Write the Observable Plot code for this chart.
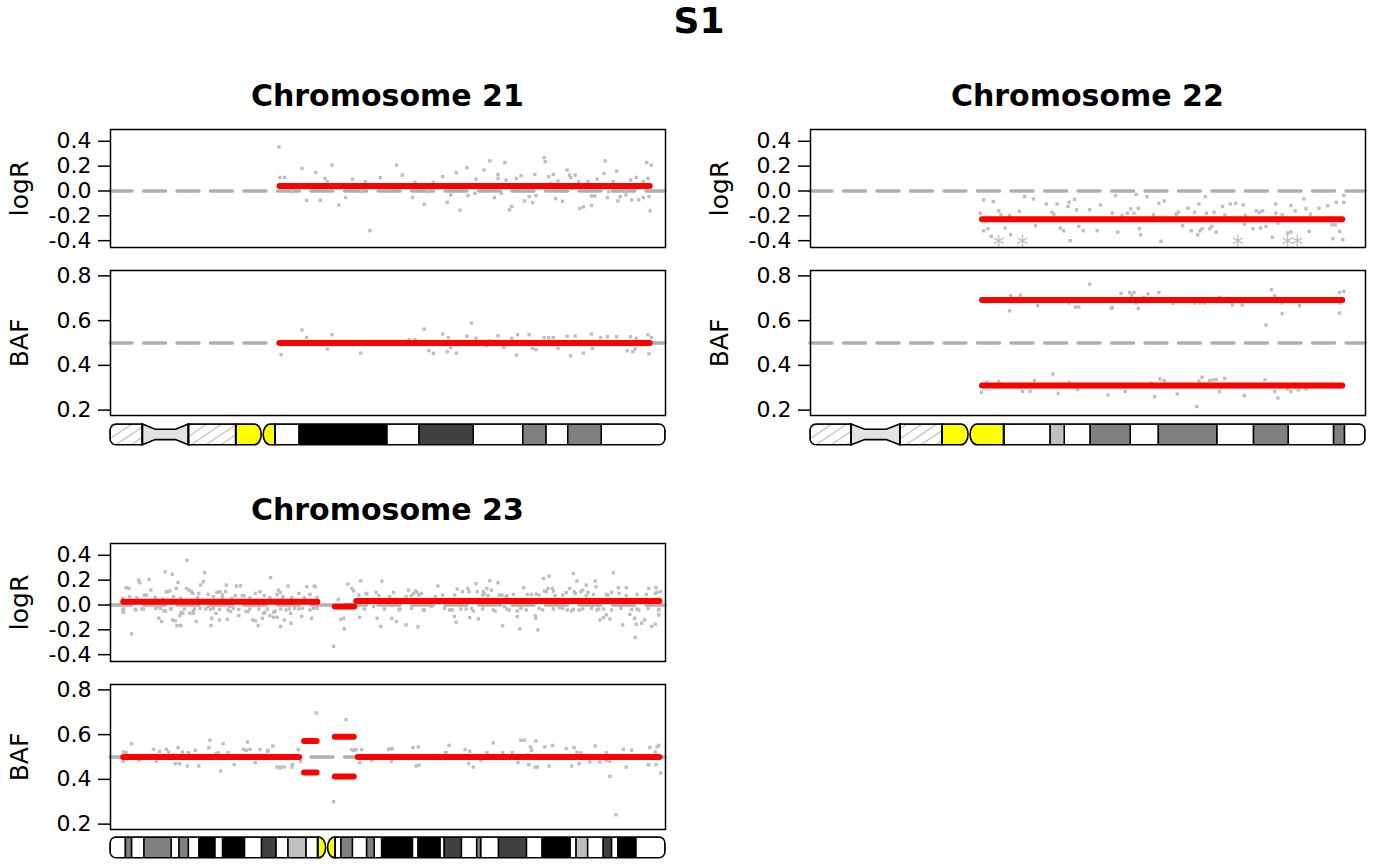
<!DOCTYPE html>
<html><head><meta charset="utf-8">
<script src="https://cdn.jsdelivr.net/npm/d3@7"></script>
<script src="https://cdn.jsdelivr.net/npm/@observablehq/plot@0.6"></script>
<style>
body{margin:0;background:#fff;font-family:"DejaVu Sans",sans-serif;}
#root{position:relative;width:1400px;height:866px;overflow:hidden;background:#fff;}
.title{position:absolute;font-weight:bold;text-align:center;white-space:nowrap;color:#000;}
</style></head><body><div id="root"></div>
<script>
// ---------------- data ----------------
const mainTitle = "S1";
const chrTitles = ["Chromosome 21", "Chromosome 22", "Chromosome 23"];
const chrLengths = [48.13, 51.3, 155.27]; // Mb
const logRTicks = [-0.4, -0.2, 0.0, 0.2, 0.4];
const bafTicks = [0.2, 0.4, 0.6, 0.8];
const logRDomain = [-0.455, 0.495];
const bafDomain = [0.176, 0.824];

// [start Mb, end Mb, stain]
const chr21Bands = [[0,2.8,"gvar"],[2.8,6.8,"stalk"],[6.8,10.9,"gvar"],[10.9,13.2,"acen"],[13.2,14.3,"acen"],[14.3,16.4,"gneg"],[16.4,24.0,"gpos100"],[24.0,26.8,"gneg"],[26.8,31.5,"gpos75"],[31.5,35.8,"gneg"],[35.8,37.8,"gpos50"],[37.8,39.7,"gneg"],[39.7,42.6,"gpos50"],[42.6,48.13,"gneg"]];
const chr22Bands = [[0,3.8,"gvar"],[3.8,8.3,"stalk"],[8.3,12.2,"gvar"],[12.2,14.7,"acen"],[14.7,17.9,"acen"],[17.9,22.2,"gneg"],[22.2,23.5,"gpos25"],[23.5,25.9,"gneg"],[25.9,29.6,"gpos50"],[29.6,32.2,"gneg"],[32.2,37.6,"gpos50"],[37.6,41.0,"gneg"],[41.0,44.2,"gpos50"],[44.2,48.4,"gneg"],[48.4,49.4,"gpos50"],[49.4,51.3,"gneg"]];
const chr23Bands = [[0,4.3,"gneg"],[4.3,6.0,"gpos50"],[6.0,9.5,"gneg"],[9.5,17.1,"gpos50"],[17.1,19.3,"gneg"],[19.3,21.9,"gpos50"],[21.9,24.9,"gneg"],[24.9,29.3,"gpos100"],[29.3,31.5,"gneg"],[31.5,37.6,"gpos100"],[37.6,42.4,"gneg"],[42.4,46.4,"gpos75"],[46.4,49.8,"gneg"],[49.8,54.8,"gpos25"],[54.8,58.1,"gneg"],[58.1,60.6,"acen"],[60.6,63.0,"acen"],[63.0,64.6,"gneg"],[64.6,67.8,"gpos50"],[67.8,71.8,"gneg"],[71.8,73.9,"gpos50"],[73.9,76.0,"gneg"],[76.0,84.6,"gpos100"],[84.6,86.2,"gneg"],[86.2,92.3,"gpos100"],[92.3,93.5,"gneg"],[93.5,98.3,"gpos75"],[98.3,102.6,"gneg"],[102.6,103.7,"gpos50"],[103.7,108.7,"gneg"],[108.7,116.5,"gpos75"],[116.5,120.9,"gneg"],[120.9,128.7,"gpos100"],[128.7,130.4,"gneg"],[130.4,133.6,"gpos25"],[133.6,138.0,"gneg"],[138.0,140.3,"gpos75"],[140.3,142.1,"gneg"],[142.1,147.1,"gpos100"],[147.1,155.27,"gneg"]];

// segments [start Mb, end Mb, value]
const chr21LogRSeg = [[14.7,46.8,0.04]];
const chr21BAFSeg = [[14.7,46.8,0.5]];
const chr22LogRSeg = [[15.9,49.2,-0.227]];
const chr22BAFSeg = [[15.9,49.2,0.692],[15.9,49.2,0.31]];
const chr23LogRSeg = [[3.7,58.0,0.027],[62.9,68.3,-0.013],[68.9,153.7,0.032]];
const chr23BAFSeg = [[3.7,52.9,0.5],[54.3,57.8,0.572],[54.3,57.8,0.431],[62.9,68.2,0.59],[62.9,68.2,0.413],[69.3,153.7,0.5]];

// points [pos Mb, value]
const chr21LogR = [[14.6,0.355],[14.7,0.109],[15.1,0.109],[16.6,0.181],[17.8,0.149],[19.2,0.208],[18.6,0.101],[18.8,0.075],[21.0,0.096],[22.1,0.075],[23.4,0.107],[24.8,0.208],[25.3,0.128],[26.4,0.069],[28.0,0.069],[28.8,0.115],[30.0,0.147],[30.9,0.187],[31.7,0.096],[32.4,0.168],[32.9,0.243],[33.6,0.133],[33.6,0.101],[34.2,0.229],[34.3,0.088],[35.2,0.101],[35.6,0.123],[36.8,0.133],[37.6,0.269],[37.7,0.235],[38.0,0.115],[38.4,0.133],[38.8,0.08],[39.6,0.168],[39.8,0.128],[40.3,0.128],[39.9,0.107],[40.6,0.075],[41.4,0.075],[42.2,0.096],[42.8,0.141],[42.9,0.243],[43.6,0.075],[43.9,0.16],[45.1,0.088],[45.6,0.109],[46.5,0.229],[46.9,0.208],[46.6,0.101],[46.2,0.075],
[15.7,-0.005],[17.0,-0.075],[18.2,-0.075],[19.8,-0.112],[20.4,-0.053],[21.8,-0.005],[22.5,-0.32],[26.2,-0.053],[27.2,-0.107],[27.6,-0.005],[29.2,-0.091],[29.5,-0.032],[30.3,-0.155],[31.0,-0.037],[31.6,-0.019],[33.3,-0.053],[33.9,-0.019],[34.6,-0.152],[34.8,-0.125],[35.9,-0.08],[36.3,-0.045],[36.6,-0.093],[36.9,-0.037],[38.6,-0.061],[39.2,-0.083],[40.7,-0.141],[41.0,-0.128],[41.7,-0.117],[41.7,-0.04],[42.0,-0.04],[43.1,-0.053],[43.2,-0.005],[44.0,-0.08],[44.2,-0.045],[44.7,-0.032],[44.6,-0.005],[45.2,-0.072],[45.8,-0.072],[46.2,-0.053],[46.7,-0.045],[46.8,-0.16],
[16.0,0.03],[20.0,0.05],[24.0,0.02],[27.0,0.04],[30.5,0.03],[33.0,0.05],[36.0,0.02],[38.2,0.06],[40.0,0.02],[41.5,0.05],[43.0,0.03],[44.5,0.04],[45.5,0.02],[46.0,0.05]];
const chr21BAF = [[14.8,0.448],[16.6,0.558],[17.0,0.525],[18.8,0.473],[19.2,0.537],[21.7,0.455],[25.9,0.515],[26.4,0.515],[27.2,0.562],[27.6,0.466],[28.0,0.454],[28.8,0.54],[29.3,0.524],[29.2,0.461],[29.5,0.48],[30.0,0.455],[30.9,0.53],[31.3,0.589],[31.7,0.521],[32.6,0.488],[32.9,0.51],[33.6,0.533],[34.1,0.48],[34.8,0.521],[35.2,0.446],[35.3,0.537],[36.3,0.537],[36.6,0.476],[36.9,0.47],[37.6,0.524],[38.0,0.524],[38.4,0.524],[38.8,0.476],[39.6,0.53],[39.9,0.443],[40.3,0.531],[41.0,0.455],[41.7,0.54],[41.8,0.476],[42.5,0.524],[43.1,0.528],[43.9,0.528],[44.8,0.466],[45.3,0.461],[45.5,0.473],[45.1,0.528],[45.6,0.521],[46.6,0.537],[46.9,0.525],[46.7,0.452]];
const chr22LogR = [[16.0,-0.072],[16.9,-0.085],[15.7,-0.179],[16.0,-0.32],[16.4,-0.304],[16.7,-0.365],[17.4,-0.16],[17.6,-0.192],[18.0,-0.299],[18.5,-0.352],[18.4,-0.197],[19.3,-0.165],[19.8,-0.045],[20.6,-0.064],[20.8,-0.28],[21.8,-0.104],[22.3,-0.171],[22.5,-0.187],[22.8,-0.104],[23.1,-0.299],[23.4,-0.32],[23.8,-0.125],[23.9,-0.091],[24.0,-0.4],[24.4,-0.067],[24.6,-0.152],[24.8,-0.285],[25.2,-0.32],[25.8,-0.152],[26.5,-0.32],[26.8,-0.112],[27.9,-0.179],[28.2,-0.037],[28.4,-0.331],[28.8,-0.197],[29.3,-0.179],[29.6,-0.144],[29.9,-0.179],[30.1,-0.027],[30.3,-0.139],[30.4,-0.304],[30.5,-0.352],[31.1,-0.045],[31.7,-0.192],[32.2,-0.099],[32.4,-0.405],[32.7,-0.08],[33.8,-0.187],[34.0,-0.171],[34.4,-0.28],[34.9,-0.139],[35.2,-0.32],[35.5,-0.171],[35.8,-0.352],[36.0,-0.32],[36.2,-0.304],[35.9,-0.104],[36.5,-0.045],[36.6,-0.179],[36.9,-0.304],[37.1,-0.285],[37.5,-0.331],[37.3,-0.171],[38.1,-0.125],[38.3,-0.192],[38.8,-0.104],[39.3,-0.099],[40.0,-0.112],[40.1,-0.267],[40.2,-0.197],[40.9,-0.304],[41.2,-0.16],[41.5,-0.171],[41.8,-0.16],[41.6,-0.299],[42.1,-0.285],[42.7,-0.373],[43.0,-0.104],[43.0,-0.179],[43.2,-0.259],[43.6,-0.192],[44.1,-0.339],[44.4,-0.331],[44.4,-0.117],[44.8,-0.16],[45.6,-0.064],[45.8,-0.144],[46.2,-0.187],[46.1,-0.325],[47.0,-0.139],[47.8,-0.12],[48.2,-0.272],[48.5,-0.272],[48.6,-0.091],[49.3,-0.091],[48.9,-0.325],[49.2,-0.392],[48.3,-0.384],[49.3,-0.037]];
const chr22LogROut = [[17.4,-0.4],[19.6,-0.4],[39.5,-0.4],[44.1,-0.4],[45.0,-0.4]];
const chr22BAF = [[16.2,0.686],[16.6,0.686],[18.5,0.711],[19.4,0.714],[18.4,0.644],[21.0,0.667],[23.9,0.679],[24.5,0.661],[24.8,0.661],[25.8,0.763],[27.9,0.659],[27.8,0.655],[28.7,0.722],[29.5,0.726],[29.9,0.726],[29.7,0.714],[30.1,0.679],[30.3,0.655],[30.8,0.704],[31.2,0.719],[32.2,0.726],[33.5,0.677],[35.5,0.679],[36.0,0.679],[36.4,0.679],[37.8,0.704],[39.0,0.67],[39.9,0.67],[42.6,0.738],[42.9,0.711],[42.1,0.58],[43.6,0.679],[43.6,0.632],[45.2,0.667],[48.9,0.726],[49.3,0.731],[48.9,0.679],[48.9,0.634],
[15.8,0.28],[16.3,0.324],[17.4,0.327],[19.6,0.284],[20.3,0.284],[20.7,0.332],[22.4,0.362],[22.9,0.275],[23.9,0.324],[24.7,0.292],[27.5,0.268],[29.1,0.284],[31.5,0.321],[31.8,0.26],[32.3,0.339],[32.7,0.332],[33.9,0.272],[35.7,0.216],[35.9,0.33],[36.2,0.347],[36.9,0.332],[37.2,0.335],[37.5,0.336],[37.8,0.283],[38.3,0.342],[40.1,0.265],[42.0,0.336],[42.9,0.283],[43.2,0.254],[44.1,0.295],[44.4,0.283],[44.8,0.317],[45.1,0.29],[45.8,0.295],[48.3,0.317]];
const chr23LogR = [[4.4,0.139],[5.1,0.133],[3.4,-0.04],[3.6,-0.059],[5.9,-0.232],[7.1,-0.04],[7.9,0.2],[8.2,0.179],[9.2,-0.032],[10.0,0.08],[10.8,0.205],[11.3,0.12],[13.0,-0.013],[13.5,-0.107],[14.3,-0.133],[15.3,0.267],[17.3,0.248],[15.6,0.107],[16.6,0.112],[15.4,-0.048],[17.0,-0.032],[18.1,-0.128],[18.6,-0.165],[19.6,-0.165],[18.4,0.133],[18.9,0.181],[19.8,-0.059],[20.7,-0.032],[21.4,0.36],[22.0,0.12],[22.7,0.107],[23.2,-0.048],[24.0,-0.133],[24.7,0.093],[25.2,0.16],[26.0,0.187],[26.3,0.261],[27.3,-0.013],[28.1,-0.165],[28.8,-0.027],[29.8,0.101],[30.5,-0.12],[31.3,0.08],[32.2,0.107],[32.4,0.16],[32.7,-0.115],[33.6,-0.053],[35.2,0.152],[36.4,0.155],[35.9,-0.085],[37.4,0.075],[37.9,-0.053],[39.0,-0.032],[40.5,-0.128],[41.3,-0.165],[41.8,0.107],[42.5,-0.107],[43.2,-0.059],[44.8,0.221],[45.6,-0.059],[46.1,-0.048],[46.6,-0.099],[47.0,0.12],[47.6,0.101],[47.6,-0.173],[48.6,-0.12],[48.3,0.067],[49.7,0.152],[50.4,-0.067],[50.5,-0.147],[53.5,-0.093],[54.9,0.147],[57.0,0.152],[57.3,0.147],[56.8,-0.027],
[62.4,-0.333],[63.7,0.045],[64.4,-0.115],[65.2,-0.107],[65.4,-0.192],[66.4,0.168],[67.5,0.133],[68.0,0.115],[69.7,-0.099],[70.0,0.195],[70.7,0.005],[71.7,0.088],[74.3,0.101],[74.6,-0.107],[75.6,-0.173],[75.9,0.192],[78.7,-0.107],[80.0,-0.133],[79.2,0.101],[81.0,-0.032],[82.7,-0.16],[83.4,0.12],[84.2,0.075],[84.8,0.093],[85.8,0.101],[87.0,0.093],[86.0,-0.176],[87.5,-0.04],[91.6,0.152],[94.9,-0.04],[96.2,-0.093],[96.7,-0.139],[97.0,0.128],[100.0,0.133],[100.3,0.107],[98.0,-0.032],[100.5,-0.101],[102.9,-0.112],[101.0,-0.027],[102.3,0.171],[104.3,0.107],[105.3,0.133],[106.1,0.195],[108.4,0.179],[104.6,0.088],[105.6,0.075],[107.6,-0.048],[109.7,-0.168],[109.5,0.08],[110.9,0.075],[110.9,-0.032],[113.8,-0.093],[114.5,-0.192],[113.8,-0.048],[115.6,0.139],[117.8,0.085],[119.1,0.088],[118.8,-0.085],[119.0,-0.107],[119.6,-0.2],[121.1,0.213],[122.7,0.232],[121.4,0.112],[122.4,0.133],[123.6,0.133],[123.9,0.112],[125.5,-0.021],[127.8,-0.04],[129.0,-0.048],[128.5,0.133],[127.5,0.099],[129.5,0.253],[130.5,0.192],[129.7,0.107],[131.6,0.107],[132.1,0.12],[133.1,0.16],[133.6,0.101],[135.6,0.192],[135.8,0.147],[136.6,-0.032],[136.9,-0.12],[137.9,-0.101],[138.7,-0.08],[139.7,-0.112],[138.7,0.085],[140.7,0.259],[140.2,0.101],[142.1,0.139],[144.3,0.139],[143.3,-0.16],[145.3,-0.075],[146.6,-0.107],[146.8,-0.261],[147.1,-0.155],[148.6,-0.147],[149.4,-0.12],[147.3,-0.032],[150.6,0.133],[152.6,0.139],[152.4,-0.155],[151.4,-0.173],[152.9,0.101],[153.4,-0.08],[153.4,-0.035],
[3.7,-0.032],[6.9,-0.035],[8.8,-0.032],[12.7,-0.027],[14.0,-0.027],[14.9,-0.048],[16.8,-0.032],[17.4,-0.12],[19.4,-0.085],[20.2,-0.067],[22.2,-0.067],[23.2,-0.067],[23.5,-0.032],[25.0,-0.027],[26.6,-0.032],[28.0,-0.035],[28.3,-0.107],[29.5,-0.067],[30.5,-0.035],[32.9,-0.04],[33.4,-0.013],[34.4,-0.027],[35.9,-0.035],[38.5,-0.053],[39.8,-0.12],[41.5,-0.032],[42.8,-0.067],[43.9,-0.032],[44.6,-0.085],[45.6,-0.099],[47.6,-0.032],[49.1,-0.04],[50.0,-0.032],[51.5,-0.027],[52.7,-0.032],[53.7,-0.027],[55.8,-0.04],[56.3,-0.107],[57.8,-0.027],
[3.4,0.053],[5.4,0.067],[7.4,0.059],[9.5,0.08],[12.5,0.061],[14.6,0.048],[15.9,0.107],[17.6,0.067],[19.6,0.053],[21.2,0.133],[23.0,0.093],[24.4,0.059],[27.3,0.085],[28.8,0.067],[30.6,0.107],[31.3,0.059],[33.9,0.053],[34.9,0.075],[36.9,0.075],[39.0,0.059],[40.5,0.093],[43.0,0.075],[44.6,0.059],[46.6,0.085],[48.1,0.053],[50.7,0.059],[52.7,0.093],[54.2,0.059],[55.8,0.085],[57.8,0.061],
[69.5,0.08],[71.5,0.093],[75.1,0.075],[78.1,0.067],[82.7,0.067],[85.3,0.112],[86.3,0.08],[90.9,0.067],[92.9,0.08],[96.3,0.08],[98.5,0.107],[102.6,0.107],[104.1,0.08],[106.6,0.12],[108.7,0.08],[110.7,0.067],[112.7,0.085],[116.6,0.085],[119.9,0.08],[121.9,0.107],[124.4,0.075],[126.5,0.08],[130.0,0.093],[133.1,0.075],[135.1,0.085],[139.2,0.08],[142.3,0.093],[144.3,0.075],[147.3,0.085],[149.9,0.085],[152.4,0.093],[153.9,0.107],
[71.0,-0.032],[73.6,-0.013],[76.6,-0.032],[80.7,-0.04],[84.2,-0.027],[87.8,-0.04],[89.8,-0.013],[93.4,-0.027],[95.6,-0.04],[99.5,-0.032],[101.5,-0.048],[104.1,-0.032],[107.1,-0.04],[110.2,-0.013],[111.5,-0.04],[114.8,-0.027],[116.3,-0.04],[119.9,-0.027],[120.9,-0.04],[123.9,-0.032],[126.5,-0.027],[129.5,-0.035],[131.1,-0.04],[132.1,-0.032],[134.6,-0.027],[136.1,-0.04],[138.0,-0.032],[140.2,-0.04],[142.8,-0.027],[145.8,-0.035],[147.8,-0.04],[150.4,-0.027],[153.4,-0.04]];
const chr23BAF = [[3.6,0.522],[4.4,0.519],[3.6,0.481],[5.9,0.56],[8.2,0.49],[12.0,0.534],[13.7,0.525],[12.8,0.481],[16.3,0.522],[17.6,0.51],[18.1,0.47],[19.3,0.47],[18.9,0.542],[20.1,0.522],[21.9,0.519],[21.5,0.46],[23.7,0.53],[24.7,0.46],[27.8,0.575],[27.5,0.542],[30.1,0.519],[30.8,0.437],[31.5,0.56],[32.9,0.519],[34.6,0.466],[37.2,0.534],[38.3,0.567],[39.0,0.534],[40.5,0.475],[41.8,0.533],[43.9,0.525],[45.4,0.549],[46.6,0.455],[47.6,0.455],[48.6,0.455],[50.9,0.466],[53.2,0.481],[52.5,0.533],[57.6,0.697],[62.4,0.3],[65.9,0.667],[67.5,0.533],[68.7,0.533],[70.3,0.533],[69.7,0.475],[73.1,0.485],[78.4,0.537],[78.8,0.537],[78.6,0.481],[84.6,0.542],[86.1,0.545],[85.5,0.46],[86.3,0.463],[93.7,0.519],[94.7,0.552],[99.2,0.533],[100.5,0.525],[100.2,0.47],[101.5,0.455],[105.3,0.519],[107.1,0.563],[109.7,0.519],[114.0,0.475],[114.8,0.575],[115.8,0.575],[117.5,0.545],[117.8,0.53],[119.0,0.572],[117.0,0.466],[118.8,0.455],[119.4,0.455],[121.5,0.545],[123.6,0.552],[122.7,0.46],[129.0,0.46],[129.7,0.542],[130.5,0.522],[131.6,0.519],[131.1,0.47],[135.6,0.549],[136.9,0.478],[138.7,0.485],[139.7,0.481],[139.7,0.413],[141.4,0.242],[143.5,0.534],[144.3,0.455],[149.4,0.496],[150.4,0.466],[152.6,0.466],[150.9,0.542],[153.4,0.552],[152.4,0.522],[153.9,0.428],
[7.9,0.485],[15.6,0.534],[21.7,0.519],[24.7,0.493],[29.5,0.515],[38.0,0.53],[44.1,0.53],[47.4,0.451],[50.7,0.455],[68.0,0.53],[77.8,0.534],[93.9,0.519],[103.6,0.485],[112.4,0.519],[116.8,0.51],[124.4,0.493],[127.5,0.537],[134.1,0.478],[138.7,0.519],[145.8,0.53],[150.6,0.466],[152.9,0.545]];

// ---------------- drawing ----------------
const root = document.getElementById("root");
const W = 670, ML = 110, MR = 5;
const FONT = "DejaVu Sans";

function place(el, left, top) {
  el.style.position = "absolute";
  el.style.left = left + "px";
  el.style.top = top + "px";
  root.appendChild(el);
}
function addTitle(txt, cx, top, size) {
  const d = document.createElement("div");
  d.className = "title";
  d.textContent = txt;
  d.style.fontSize = size + "px";
  d.style.lineHeight = size + "px";
  d.style.fontFamily = FONT;
  d.style.left = (cx - 300) + "px";
  d.style.width = "600px";
  d.style.top = top + "px";
  root.appendChild(d);
}

function dataPanel({len, points, outliers, segs, domain, ticks, ref, label, frameTop, frameH, left}) {
  const mt = 6, mb = 6;
  const marks = [
    Plot.ruleY([ref], {stroke: "#b0b0b0", strokeWidth: 3.5, strokeDasharray: "22,11.5", strokeLinecap: "round"}),
    Plot.dot(points, {x: d => d[0], y: d => d[1], symbol: "square", r: 1.9, fill: "#bebebe"})
  ];
  if (outliers) marks.push(Plot.dot(outliers, {x: d => d[0], y: d => d[1], symbol: "asterisk", r: 5.5, stroke: "#bebebe", strokeWidth: 1.3}));
  marks.push(
    Plot.ruleY(segs, {x1: d => d[0], x2: d => d[1], y: d => d[2], stroke: "#ff0000", strokeWidth: 6, strokeLinecap: "round"}),
    Plot.frame({stroke: "black", strokeWidth: 1.5}),
    Plot.axisY({ticks, tickSize: 12, tickPadding: 7, fontSize: 22, tickFormat: d => d.toFixed(1), strokeWidth: 1.5, label: null}),
    Plot.text([label], {frameAnchor: "left", dx: -91, rotate: -90, fontSize: 25, textAnchor: "middle", fill: "black"})
  );
  const plot = Plot.plot({
    width: W, height: frameH + mt + mb,
    marginLeft: ML, marginRight: MR, marginTop: mt, marginBottom: mb,
    x: {domain: [0, len], axis: null},
    y: {domain, axis: null},
    style: {fontFamily: FONT, background: "transparent", overflow: "visible", color: "black"},
    marks
  });
  place(plot, left, frameTop - mt);
}

let idCounter = 0;
function ideogram({len, bands, frameTop, left}) {
  const id = "i" + (idCounter++);
  const mt = 2, mb = 2, h = 20.8;
  const fills = {gneg: "#ffffff", gpos25: "#c0c0c0", gpos50: "#808080", gpos75: "#404040", gpos100: "#000000", acen: "#ffff00", stalk: "#e3e3e3", gvar: "#fefefe"};
  const marks = Object.keys(fills).map(st =>
    Plot.rect(bands.filter(b => b[2] === st), {x1: b => b[0], x2: b => b[1], y1: 0, y2: 1, fill: fills[st], stroke: "black", strokeWidth: 1.5})
  );
  const plot = Plot.plot({
    width: W, height: h + mt + mb,
    marginLeft: ML, marginRight: MR, marginTop: mt, marginBottom: mb,
    x: {domain: [0, len], axis: null},
    y: {domain: [0, 1], axis: null},
    style: {background: "transparent", overflow: "visible"},
    marks
  });
  const ns = "http://www.w3.org/2000/svg";
  const sx = plot.scale("x"), sy = plot.scale("y");
  const X = v => (sx && sx.apply) ? sx.apply(v) : ML + v / len * (W - ML - MR);
  const Y = v => (sy && sy.apply) ? sy.apply(v) : mt + (1 - v) * h;
  const T = Y(1), B = Y(0), M = (T + B) / 2, H = B - T;
  const acen = bands.filter(b => b[2] === "acen");
  const stalk = bands.find(b => b[2] === "stalk");
  const L = X(0), R = X(len), A1 = X(acen[0][0]), C = X(acen[0][1]), A2 = X(acen[1][1]);
  const r = 6;
  const pieces = [];
  const leftEnd = stalk ? X(stalk[0]) : A1;
  pieces.push(`M${leftEnd},${T}H${L + r}A${r},${r} 0 0 0 ${L},${T + r}V${B - r}A${r},${r} 0 0 0 ${L + r},${B}H${leftEnd}Z`);
  if (stalk) {
    const s1 = X(stalk[0]), s2 = X(stalk[1]), w = s2 - s1, n = H * 0.25;
    pieces.push(`M${s1},${T}L${s1 + 0.28 * w},${T + n}L${s2 - 0.28 * w},${T + n}L${s2},${T}V${B}L${s2 - 0.28 * w},${B - n}L${s1 + 0.28 * w},${B - n}L${s1},${B}Z`);
    pieces.push(`M${s2},${T}H${A1}V${B}H${s2}Z`);
  }
  const cp = C - 1, rp = Math.min(7, cp - A1);
  pieces.push(`M${A1},${T}H${cp - rp}A${rp},${H / 2} 0 0 1 ${cp},${M}A${rp},${H / 2} 0 0 1 ${cp - rp},${B}H${A1}Z`);
  const cq = C + 1, rq = Math.min(7, A2 - cq);
  pieces.push(`M${A2},${T}H${cq + rq}A${rq},${H / 2} 0 0 0 ${cq},${M}A${rq},${H / 2} 0 0 0 ${cq + rq},${B}H${A2}Z`);
  pieces.push(`M${A2},${T}H${R - r}A${r},${r} 0 0 1 ${R},${T + r}V${B - r}A${r},${r} 0 0 1 ${R - r},${B}H${A2}Z`);

  const defs = document.createElementNS(ns, "defs");
  defs.innerHTML = `<pattern id="hatch-${id}" patternUnits="userSpaceOnUse" width="15" height="10"><rect width="15" height="10" fill="white"/><path d="M0,10L15,0M-3,2L3,-2M12,12L18,8" stroke="#c4c4c4" stroke-width="1.3" fill="none"/></pattern>` +
    `<clipPath id="clip-${id}">${pieces.map(p => `<path d="${p}"/>`).join("")}</clipPath>`;
  plot.insertBefore(defs, plot.firstChild);
  plot.querySelectorAll('g[aria-label="rect"]').forEach(g => {
    g.setAttribute("clip-path", `url(#clip-${id})`);
    if (g.getAttribute("fill") === "#fefefe") g.setAttribute("fill", `url(#hatch-${id})`);
    g.querySelectorAll('rect[fill="#fefefe"]').forEach(rc => rc.setAttribute("fill", `url(#hatch-${id})`));
  });
  const outline = document.createElementNS(ns, "g");
  outline.setAttribute("fill", "none");
  outline.setAttribute("stroke", "black");
  outline.setAttribute("stroke-width", "1.6");
  outline.innerHTML = pieces.map(p => `<path d="${p}"/>`).join("");
  plot.appendChild(outline);
  place(plot, left, frameTop - mt);
}

function chromosome(i, left, dy, logR, logROut, logRSeg, baf, bafSeg, bands) {
  addTitle(chrTitles[i], left + 387.4, 81.3 + dy, 30);
  dataPanel({len: chrLengths[i], points: logR, outliers: logROut, segs: logRSeg, domain: logRDomain, ticks: logRTicks, ref: 0, label: "logR", frameTop: 129.3 + dy, frameH: 118, left});
  dataPanel({len: chrLengths[i], points: baf, outliers: null, segs: bafSeg, domain: bafDomain, ticks: bafTicks, ref: 0.5, label: "BAF", frameTop: 270 + dy, frameH: 145, left});
  ideogram({len: chrLengths[i], bands, frameTop: 423.5 + dy, left});
}

addTitle(mainTitle, 699, 2.8, 36);
chromosome(0, 0, 0, chr21LogR, null, chr21LogRSeg, chr21BAF, chr21BAFSeg, chr21Bands);
chromosome(1, 700, 0, chr22LogR, chr22LogROut, chr22LogRSeg, chr22BAF, chr22BAFSeg, chr22Bands);
chromosome(2, 0, 413.5, chr23LogR, null, chr23LogRSeg, chr23BAF, chr23BAFSeg, chr23Bands);
</script></body></html>
